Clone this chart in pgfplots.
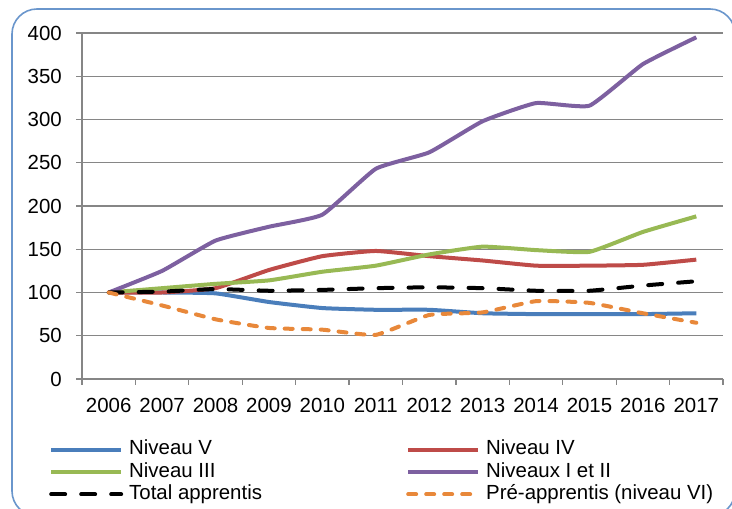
\documentclass[border=0pt]{standalone}
\usepackage{pgfplots}
\pgfplotsset{compat=1.18}
\usepackage{fontspec}
\setmainfont{Liberation Sans}
\definecolor{cV}{HTML}{4A7EBB}
\definecolor{cIV}{HTML}{BE4B48}
\definecolor{cIII}{HTML}{98B954}
\definecolor{cI}{HTML}{7D60A0}
\definecolor{cPre}{HTML}{E8883A}
\definecolor{gridc}{HTML}{868686}
\definecolor{borderc}{HTML}{6A96CC}
\begin{document}
\begin{tikzpicture}[x=1bp,y=1bp]
\useasboundingbox (0,0) rectangle (732,509);
\clip (0,0) rectangle (732,509);
\draw[color=borderc, line width=1.6bp, rounded corners=25bp] (12,-7) rectangle (735,500);
\begin{axis}[
  at={(82bp,130bp)}, anchor=south west,
  scale only axis, width=641bp, height=346bp,
  xmin=-0.5, xmax=11.5, ymin=0, ymax=400,
  xtick={0,...,11},
  xticklabels={2006,2007,2008,2009,2010,2011,2012,2013,2014,2015,2016,2017},
  minor xtick={-0.5,0.5,...,11.5},
  major x tick style={draw=none},
  ytick={0,50,...,400},
  tick align=outside, tick pos=left,
  major tick length=6bp, minor tick length=6bp,
  every tick/.style={gridc, line width=1.3bp},
  axis x line*=bottom, axis y line*=left,
  axis line style={-, gridc, line width=1.3bp},
  ymajorgrids, grid style={gridc, line width=1.3bp},
  /pgf/number format/assume math mode=true,
  ticklabel style={font=\fontsize{20.5}{24}\selectfont, text=black},
  yticklabel style={inner sep=0bp, xshift=-14bp},
  xticklabel style={inner sep=0bp, yshift=-13bp},
  legend columns=2,
  legend cell align=left,
  legend style={at={(axis description cs:-0.0515,-0.175)}, anchor=north west,
    draw=none, fill=none, font=\fontsize{20.5}{24}\selectfont,
    row sep=2.3bp, column sep=6bp, inner sep=0bp,
    nodes={inner sep=0bp, text height=15bp, text depth=5bp}},
  legend image code/.code={\draw[#1] (0bp,0bp) -- (70bp,0bp);},
  every axis plot/.append style={smooth, tension=0.25, line width=4bp},
]
\addplot[cV] coordinates {(0,100) (1,100) (2,99) (3,89) (4,82) (5,80) (6,80) (7,76) (8,75) (9,75) (10,75) (11,76)};
\addlegendentry{\makebox[271bp][l]{Niveau V}}
\addplot[cIV] coordinates {(0,100) (1,100) (2,105) (3,126) (4,142) (5,148) (6,142) (7,137) (8,131) (9,131) (10,132) (11,138)};
\addlegendentry{Niveau IV}
\addplot[cIII] coordinates {(0,100) (1,105) (2,110) (3,114) (4,124) (5,131) (6,144) (7,153) (8,149) (9,147) (10,170) (11,188)};
\addlegendentry{\makebox[271bp][l]{Niveau III}}
\addplot[cI] coordinates {(0,100) (1,125) (2,160) (3,176) (4,190) (5,243) (6,262) (7,298) (8,319) (9,316) (10,364) (11,395)};
\addlegendentry{Niveaux I et II}
\addplot[black, line cap=round, dash pattern=on 14bp off 16bp] coordinates {(0,100) (1,101) (2,104) (3,102) (4,103) (5,105) (6,106) (7,105) (8,102) (9,102) (10,108) (11,113)};
\addlegendentry{\makebox[271bp][l]{Total apprentis}}
\addplot[cPre, line cap=round, dash pattern=on 8bp off 10bp] coordinates {(0,100) (1,85) (2,69) (3,59) (4,57) (5,51) (6,74) (7,77) (8,90) (9,88) (10,76) (11,65)};
\addlegendentry{Pré-apprentis (niveau VI)}
\end{axis}
\end{tikzpicture}
\end{document}
